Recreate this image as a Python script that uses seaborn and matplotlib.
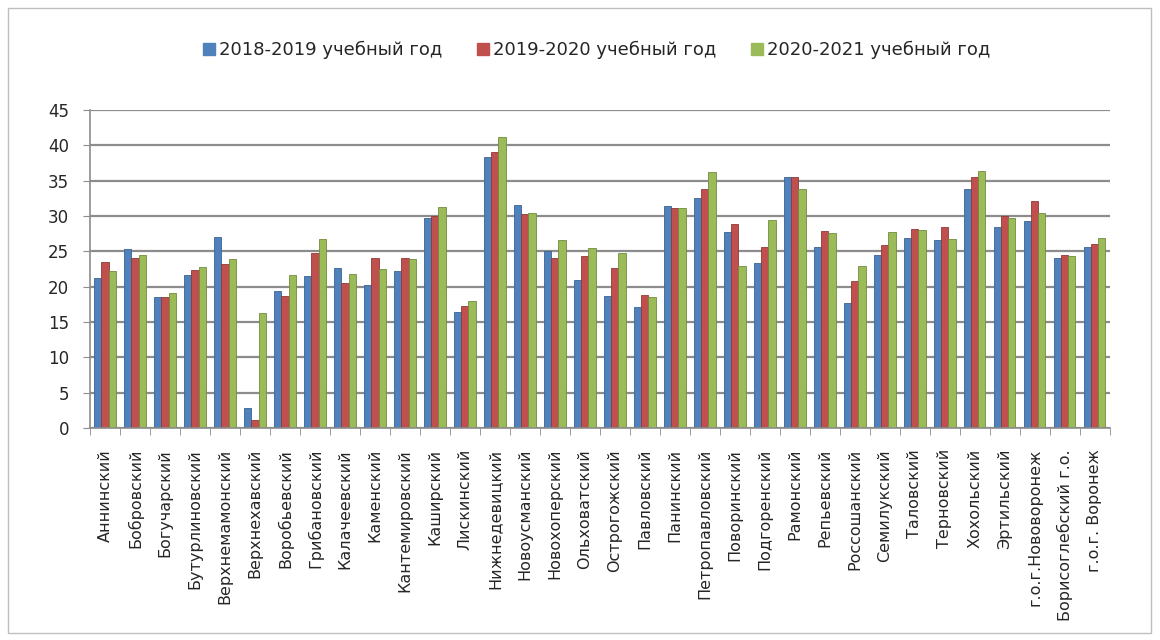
import matplotlib
matplotlib.use("Agg")
import matplotlib.pyplot as plt
import pandas as pd
import seaborn as sns
from matplotlib.patches import Rectangle
from matplotlib.lines import Line2D

regions = ['Аннинский', 'Бобровский', 'Богучарский', 'Бутурлиновский', 'Верхнемамонский',
           'Верхнехавский', 'Воробьевский', 'Грибановский', 'Калачеевский', 'Каменский',
           'Кантемировский', 'Каширский', 'Лискинский', 'Нижнедевицкий', 'Новоусманский',
           'Новохоперский', 'Ольховатский', 'Острогожский', 'Павловский', 'Панинский',
           'Петропавловский', 'Поворинский', 'Подгоренский', 'Рамонский', 'Репьевский',
           'Россошанский', 'Семилукский', 'Таловский', 'Терновский', 'Хохольский',
           'Эртильский', 'г.о.г.Нововоронеж', 'Борисоглебский г.о.', 'г.о.г. Воронеж']

y2018 = [21.2, 25.3, 18.5, 21.7, 27.0, 2.8, 19.4, 21.5, 22.6, 20.2,
         22.3, 29.7, 16.5, 38.3, 31.6, 25.0, 20.9, 18.7, 17.1, 31.5,
         32.6, 27.7, 23.4, 35.6, 25.6, 17.7, 24.5, 26.9, 26.6, 33.9,
         28.4, 29.3, 24.1, 25.6]
y2019 = [23.5, 24.1, 18.5, 22.4, 23.2, 1.2, 18.7, 24.8, 20.5, 24.1,
         24.1, 30.0, 17.3, 39.0, 30.3, 24.1, 24.4, 22.6, 18.9, 31.2,
         33.8, 28.9, 25.6, 35.6, 27.9, 20.8, 25.9, 28.2, 28.4, 35.5,
         30.0, 32.2, 24.5, 26.0]
y2020 = [22.3, 24.5, 19.1, 22.8, 24.0, 16.3, 21.7, 26.7, 21.8, 22.5,
         24.0, 31.3, 18.0, 41.2, 30.4, 26.6, 25.5, 24.8, 18.5, 31.1,
         36.3, 22.9, 29.5, 33.8, 27.6, 22.9, 27.8, 28.1, 26.7, 36.4,
         29.7, 30.5, 24.4, 26.9]

series = ['2018-2019 учебный год', '2019-2020 учебный год', '2020-2021 учебный год']
colors = ['#4F81BD', '#C0504D', '#9BBB59']
edges = ['#3A6391', '#8E3A38', '#728C40']

df = pd.DataFrame({
    'region': regions * 3,
    'value': y2018 + y2019 + y2020,
    'series': [series[0]] * len(regions) + [series[1]] * len(regions) + [series[2]] * len(regions),
})

sns.set_style('white')
plt.rcParams['font.family'] = ['DejaVu Sans']

fig = plt.figure(figsize=(11.6, 6.4), dpi=100)
ax = fig.add_axes([0.0776, 0.331, 0.879, 0.497])

sns.barplot(data=df, x='region', y='value', hue='series', palette=colors,
            width=0.72, gap=0.0, ax=ax, legend=False, saturation=1)

for i, cont in enumerate(ax.containers):
    for bar in cont:
        bar.set_edgecolor(edges[i])
        bar.set_linewidth(0.6)

ax.set_ylim(0, 45)
ax.set_xlim(-0.5, len(regions) - 0.5)
ax.set_yticks(range(0, 46, 5))
ax.yaxis.grid(True, color='#8c8c8c', linewidth=1.6)
ax.set_axisbelow(True)
for s in ['top', 'right']:
    ax.spines[s].set_visible(False)
ax.spines['left'].set_color('#8c8c8c')
ax.spines['bottom'].set_color('#8c8c8c')
ax.spines['left'].set_linewidth(1.2)
ax.spines['bottom'].set_linewidth(1.2)

ax.set_xlabel('')
ax.set_ylabel('')
ax.tick_params(axis='y', labelsize=12, length=5, color='#8c8c8c', left=True, pad=10)
ax.set_xticks(range(len(regions)))
ax.set_xticklabels(regions, rotation=90, fontsize=11.5)
ax.tick_params(axis='x', which='major', length=0, pad=15)
ax.set_xticks([i - 0.5 for i in range(len(regions) + 1)], minor=True)
ax.tick_params(axis='x', which='minor', length=5, color='#8c8c8c', bottom=True)

handles = [Line2D([], [], marker='s', linestyle='', markersize=9,
                  markerfacecolor=c, markeredgecolor=c) for c in colors]
fig.legend(handles, series, loc='center', bbox_to_anchor=(0.514, 0.922), ncol=3,
           frameon=False, fontsize=13, handletextpad=0.15, columnspacing=1.85,
           handlelength=0.8)

fig.patches.append(Rectangle((0.007, 0.011), 0.985, 0.976, transform=fig.transFigure,
                             fill=False, edgecolor='#bfbfbf', linewidth=1))

fig.savefig('out.png', dpi=100)
